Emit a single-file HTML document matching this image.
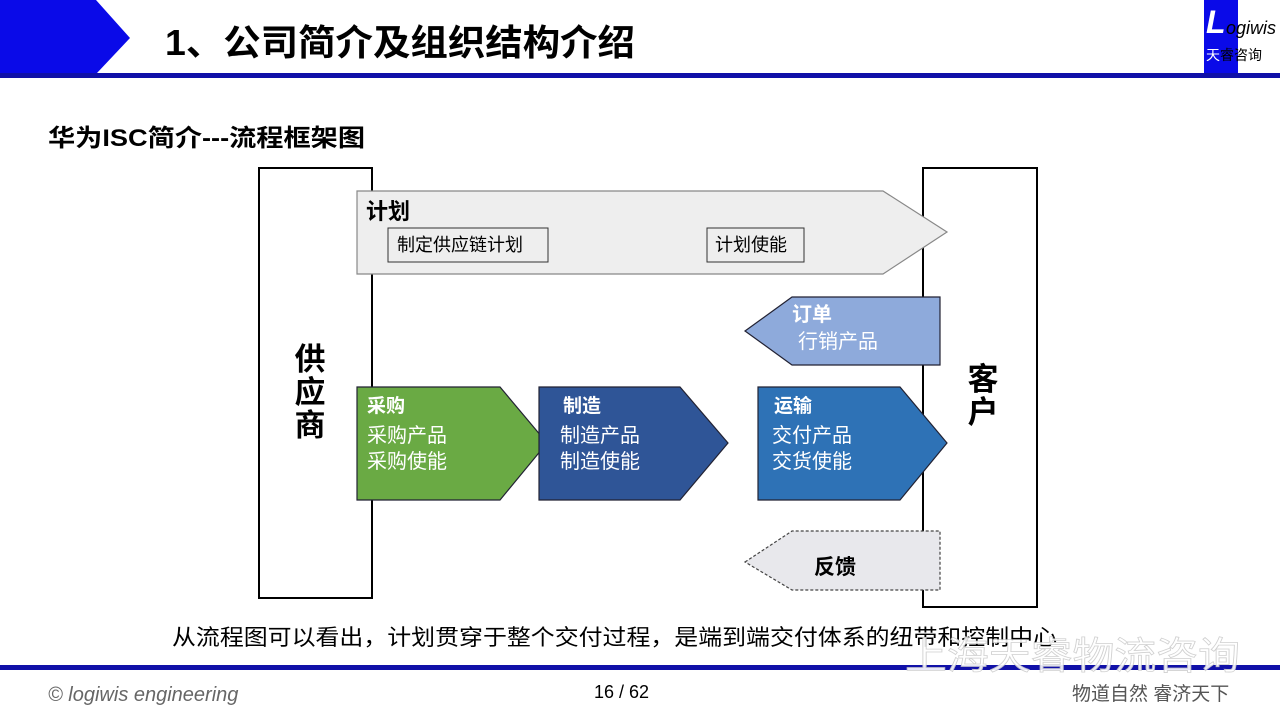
<!DOCTYPE html>
<html><head><meta charset="utf-8"><style>
html,body{margin:0;padding:0;background:#fff}
body{width:1280px;height:720px;overflow:hidden;position:relative;font-family:"Liberation Sans","Noto Sans CJK SC",sans-serif}
svg text{font-family:"Liberation Sans","Noto Sans CJK SC",sans-serif}
</style></head><body>
<svg width="1280" height="720" viewBox="0 0 1280 720" xmlns="http://www.w3.org/2000/svg">
<polygon points="0,0 96,0 130,38 97,73 0,73" fill="#0a0ae8"/>
<rect x="0" y="73" width="1280" height="5" fill="#1010a8"/>
<rect x="1204" y="0" width="34" height="73" fill="#0a0ae8"/>
<text x="165" y="55" font-size="36" font-weight="bold" fill="#000" textLength="470" lengthAdjust="spacingAndGlyphs">1、公司简介及组织结构介绍</text>
<text x="1206" y="33" font-size="32" font-style="italic" font-family="Liberation Serif" fill="#fff" font-weight="bold">L</text>
<text x="1226" y="34" font-size="18" font-style="italic" font-family="Liberation Serif" fill="#000">ogiwis</text>
<text x="1206" y="60" font-size="14" fill="#fff">天</text>
<text x="1220" y="60" font-size="14" fill="#000">睿咨询</text>
<text x="48" y="146" font-size="24" font-weight="bold" textLength="317" lengthAdjust="spacingAndGlyphs">华为ISC简介---流程框架图</text>

<rect x="259" y="168" width="113" height="430" fill="#fff" stroke="#000" stroke-width="2"/>
<rect x="923" y="168" width="114" height="439" fill="#fff" stroke="#000" stroke-width="2"/>
<text x="310" y="350" font-size="31" font-weight="bold" text-anchor="middle">
<tspan x="310" dy="20">供</tspan><tspan x="310" dy="33">应</tspan><tspan x="310" dy="33">商</tspan></text>
<text x="983" y="370" font-size="31" font-weight="bold" text-anchor="middle"><tspan x="983" dy="20">客</tspan><tspan x="983" dy="33">户</tspan></text>

<polygon points="357,191 883,191 947,232 883,274 357,274" fill="#eeeeee" stroke="#888" stroke-width="1.2"/>
<text x="366" y="219" font-size="22" font-weight="bold">计划</text>
<rect x="388" y="228" width="160" height="34" fill="#eee" stroke="#333"/>
<text x="397" y="251" font-size="18">制定供应链计划</text>
<rect x="707" y="228" width="97" height="34" fill="#eee" stroke="#333"/>
<text x="715" y="251" font-size="18">计划使能</text>

<polygon points="745,331 792,297 940,297 940,365 792,365" fill="#8eaadb" stroke="#223" stroke-width="1.2"/>
<text x="792" y="321" font-size="20" font-weight="bold" fill="#fff">订单</text>
<text x="798" y="348" font-size="20" fill="#fff">行销产品</text>

<polygon points="357,387 500,387 547,443 500,500 357,500" fill="#6aaa44" stroke="#223" stroke-width="1.2"/>
<text x="367" y="412" font-size="19" font-weight="bold" fill="#fff">采购</text>
<text x="367" y="442" font-size="20" fill="#fff">采购产品</text>
<text x="367" y="468" font-size="20" fill="#fff">采购使能</text>

<polygon points="539,387 680,387 728,443 680,500 539,500" fill="#2f5597" stroke="#223" stroke-width="1.2"/>
<text x="563" y="412" font-size="19" font-weight="bold" fill="#fff">制造</text>
<text x="560" y="442" font-size="20" fill="#fff">制造产品</text>
<text x="560" y="468" font-size="20" fill="#fff">制造使能</text>

<polygon points="758,387 900,387 947,443 900,500 758,500" fill="#2e72b6" stroke="#223" stroke-width="1.2"/>
<text x="774" y="412" font-size="19" font-weight="bold" fill="#fff">运输</text>
<text x="772" y="442" font-size="20" fill="#fff">交付产品</text>
<text x="772" y="468" font-size="20" fill="#fff">交货使能</text>

<polygon points="745,562 792,531 940,531 940,590 792,590" fill="#e8e8ec" stroke="#444" stroke-width="1.2" stroke-dasharray="3,2"/>
<text x="814" y="574" font-size="21" font-weight="bold">反馈</text>

<text x="172" y="645" font-size="22" textLength="885" lengthAdjust="spacingAndGlyphs">从流程图可以看出，计划贯穿于整个交付过程，是端到端交付体系的纽带和控制中心</text>
<rect x="0" y="665" width="1280" height="5" fill="#1010a8"/>
<text x="905" y="669" font-size="38" fill="#fff" stroke="#ccc" stroke-width="0.8" opacity="0.9" textLength="335" lengthAdjust="spacingAndGlyphs">上海天睿物流咨询</text>
<text x="48" y="701" font-size="20" font-style="italic" fill="#666">© logiwis engineering</text>
<text x="594" y="698" font-size="18" fill="#000">16  / 62</text>
<text x="1072" y="700" font-size="19" fill="#555">物道自然  睿济天下</text>
</svg>
</body></html>
